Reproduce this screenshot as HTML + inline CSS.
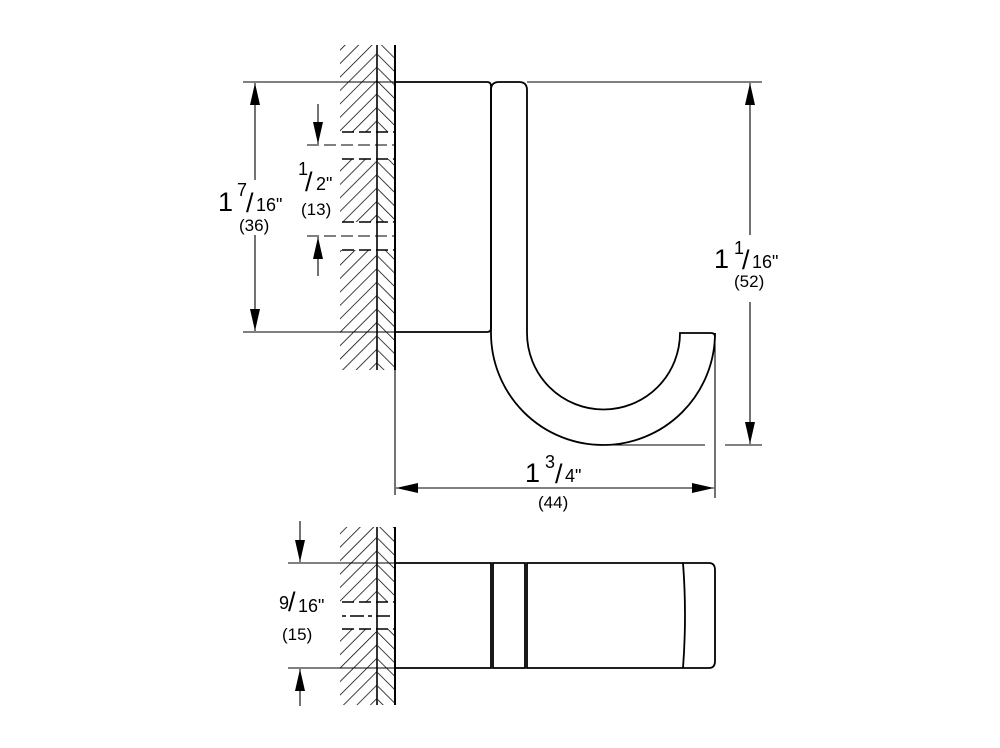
<!DOCTYPE html>
<html><head><style>html,body{margin:0;padding:0;background:#fff}svg{display:block}
text{font-family:"Liberation Sans",sans-serif;fill:#000}</style></head><body>
<svg width="1000" height="748" viewBox="0 0 1000 748" xmlns="http://www.w3.org/2000/svg">
<defs>
<pattern id="hl" patternUnits="userSpaceOnUse" width="9.5" height="9.5" patternTransform="rotate(45)">
<line x1="0" y1="0" x2="0" y2="9.5" stroke="#000" stroke-width="1.5"/></pattern>
<pattern id="hr" patternUnits="userSpaceOnUse" width="9.5" height="9.5" patternTransform="rotate(-45)">
<line x1="0" y1="0" x2="0" y2="9.5" stroke="#000" stroke-width="1.5"/></pattern>
<marker id="a" markerWidth="22" markerHeight="10" refX="22" refY="5" orient="auto-start-reverse" markerUnits="userSpaceOnUse" viewBox="0 0 22 10"><path d="M0,0 L22,5 L0,10 Z" fill="#000"/></marker>
</defs>
<g>
<rect x="340" y="45" width="37" height="87" fill="url(#hl)"/>
<rect x="340" y="159" width="37" height="63" fill="url(#hl)"/>
<rect x="340" y="250" width="37" height="120" fill="url(#hl)"/>
<rect x="378" y="45" width="17" height="87" fill="url(#hr)"/>
<rect x="378" y="159" width="17" height="63" fill="url(#hr)"/>
<rect x="378" y="250" width="17" height="120" fill="url(#hr)"/>
<line x1="377" y1="45" x2="377" y2="370" stroke="#000" stroke-width="1.6"/>
<line x1="395" y1="45" x2="395" y2="370" stroke="#000" stroke-width="2"/>
<g stroke="#000" stroke-width="1.4" stroke-dasharray="12,5">
<line x1="342" y1="132" x2="395" y2="132"/><line x1="342" y1="159" x2="395" y2="159"/>
<line x1="342" y1="222" x2="395" y2="222"/><line x1="342" y1="250" x2="395" y2="250"/>
</g>
</g>
<g>
<rect x="340" y="527" width="37" height="75" fill="url(#hl)"/>
<rect x="340" y="629" width="37" height="76" fill="url(#hl)"/>
<rect x="378" y="527" width="17" height="75" fill="url(#hr)"/>
<rect x="378" y="629" width="17" height="76" fill="url(#hr)"/>
<line x1="377" y1="527" x2="377" y2="705" stroke="#000" stroke-width="1.6"/>
<line x1="395" y1="527" x2="395" y2="705" stroke="#000" stroke-width="2"/>
<g stroke="#000" stroke-width="1.4" stroke-dasharray="12,5">
<line x1="342" y1="602" x2="395" y2="602"/><line x1="342" y1="629" x2="395" y2="629"/>
<line x1="342" y1="616" x2="395" y2="616" stroke-dasharray="4,4,14,4"/>
</g>
</g>
<g fill="none" stroke="#000" stroke-width="1.8">
<path d="M395,82 H487 Q491,82 491,86 V328 Q491,332 487,332 H395"/>
<path d="M491,333 V90 Q491,82 499,82 H519 Q527,82 527,90 V333 A76.5,76.5 0 0 0 680,333 Q680,333 684,333 H711 Q715,333 715,337 L715,333 A112,112 0 0 1 491,333"/>
<path d="M395,563 H491 V668 H395"/>
<path d="M493,563 H525 V668 H493 Z"/>
<path d="M527,563 H709 Q715,563 715,570 V661 Q715,668 709,668 H527 Z"/>
<path d="M683,563 Q687,615 683,668"/>
</g>
<g stroke="#000" stroke-width="1.1" fill="none">
<line x1="243" y1="82" x2="395" y2="82"/><line x1="243" y1="332" x2="395" y2="332"/>
<line x1="255" y1="83" x2="255" y2="180" marker-start="url(#a)"/>
<line x1="255" y1="235" x2="255" y2="331" marker-end="url(#a)"/>
<line x1="307" y1="145" x2="395" y2="145" stroke-dasharray="12,5"/>
<line x1="307" y1="236" x2="395" y2="236" stroke-dasharray="12,5"/>
<line x1="318" y1="104" x2="318" y2="144" marker-end="url(#a)"/>
<line x1="318" y1="276" x2="318" y2="237" marker-end="url(#a)"/>
<line x1="527" y1="82" x2="762" y2="82"/>
<line x1="600" y1="445" x2="705" y2="445"/><line x1="725" y1="445" x2="762" y2="445"/>
<line x1="750" y1="83" x2="750" y2="235" marker-start="url(#a)"/>
<line x1="750" y1="302" x2="750" y2="444" marker-end="url(#a)"/>
<line x1="395" y1="370" x2="395" y2="495"/>
<line x1="715" y1="337" x2="715" y2="498"/>
<line x1="396" y1="488" x2="714" y2="488" marker-start="url(#a)" marker-end="url(#a)"/>
<line x1="288" y1="563" x2="395" y2="563"/><line x1="288" y1="668" x2="395" y2="668"/>
<line x1="300" y1="521" x2="300" y2="562" marker-end="url(#a)"/>
<line x1="300" y1="706" x2="300" y2="669" marker-end="url(#a)"/>
</g>
<text x="218" y="211" font-size="27">1</text>
<text x="237" y="196" font-size="18">7</text><text x="246" y="212" font-size="27">/</text>
<text x="256" y="211" font-size="18">16"</text>
<text x="239" y="231" font-size="17">(36)</text>
<text x="298" y="175" font-size="18">1</text><text x="305" y="191" font-size="27">/</text>
<text x="316" y="190" font-size="18">2"</text>
<text x="301" y="215" font-size="17">(13)</text>
<text x="714" y="268" font-size="27">1</text>
<text x="734" y="254" font-size="18">1</text><text x="742" y="269" font-size="27">/</text>
<text x="752" y="268" font-size="18">16"</text>
<text x="734" y="287" font-size="17">(52)</text>
<text x="525" y="482" font-size="27">1</text>
<text x="545" y="468" font-size="18">3</text><text x="555" y="483" font-size="27">/</text>
<text x="565" y="482" font-size="18">4"</text>
<text x="538" y="508" font-size="17">(44)</text>
<text x="279" y="609" font-size="18">9</text><text x="288" y="611" font-size="27">/</text>
<text x="298" y="612" font-size="18">16"</text>
<text x="282" y="640" font-size="17">(15)</text>
</svg>
</body></html>
